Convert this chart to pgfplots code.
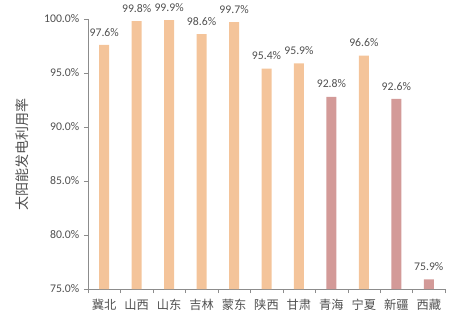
\documentclass[border=0pt]{standalone}
\usepackage{pgfplots}
\pgfplotsset{compat=1.18}
\usepackage{fontspec}
\setmainfont{Carlito}
\newfontfamily\cjk{Noto Sans CJK SC}
\definecolor{peach}{HTML}{F4C49A}
\definecolor{rosy}{HTML}{D39A98}
\definecolor{txt}{HTML}{505050}
\definecolor{axl}{HTML}{8C8C8C}
\begin{document}
\begin{tikzpicture}
\path[use as bounding box] (-66pt,-27pt) rectangle (279pt,216.75pt);
\begin{axis}[
  scale only axis, width=267.75pt, height=202.5pt,
  at={(0,0)}, anchor=south west,
  xmin=-0.5, xmax=10.5, ymin=75, ymax=100,
  axis lines*=left,
  axis line style={axl},
  /pgf/number format/assume math mode=true,
  xtick={0,...,10},
  xticklabels={冀北,山西,山东,吉林,蒙东,陕西,甘肃,青海,宁夏,新疆,西藏},
  xticklabel style={font=\cjk\fontsize{9.2}{10}\selectfont, text=txt, yshift=-1pt},
  major x tick style={draw=none},
  minor xtick={-0.5,0.5,...,10.5},
  minor tick length=3pt,
  ytick={75,80,85,90,95,100},
  yticklabels={75.0\%,80.0\%,85.0\%,90.0\%,95.0\%,100.0\%},
  yticklabel style={font=\fontsize{8.8}{10}\selectfont, text=txt},
  tick style={axl},
  tick align=outside,
  major tick length=3pt,
  every axis y label/.style={at={(axis description cs:0,0.5)}, xshift=-49pt, rotate=90, anchor=center, font=\fontsize{10.5}{12}\selectfont, text=txt},
  ylabel={\cjk 太阳能发电利用率},
  ybar, bar width=7.5pt, bar shift=0pt,
  clip=false,
  nodes near coords={\pgfmathprintnumber[fixed,fixed zerofill,precision=1,assume math mode=true]{\pgfplotspointmeta}\%},
  every node near coord/.append style={font=\fontsize{8.8}{10}\selectfont, text=txt, yshift=3pt},
]
\addplot[fill=peach, draw=none] coordinates {(0,97.6) (1,99.8) (2,99.9) (3,98.6) (4,99.7) (5,95.4) (6,95.9) (8,96.6)};
\addplot[fill=rosy, draw=none] coordinates {(7,92.8) (9,92.6) (10,75.9)};
\end{axis}
\end{tikzpicture}
\end{document}
